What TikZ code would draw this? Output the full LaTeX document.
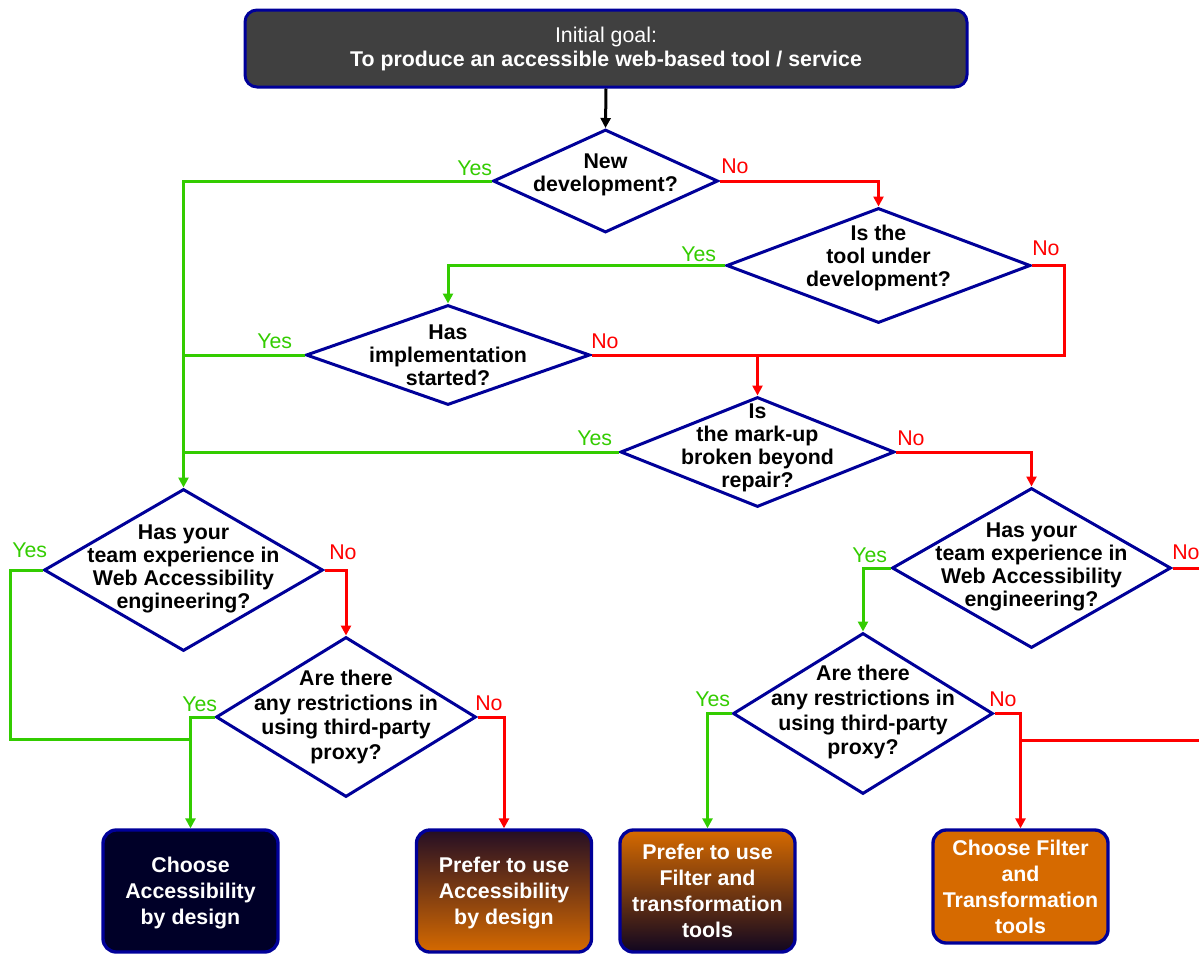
\documentclass[tikz,border=0pt]{standalone}
\usepackage{fontspec}
\setmainfont{Liberation Sans}
\usetikzlibrary{shapes.geometric,arrows.meta}
\definecolor{navyline}{RGB}{0,0,153}
\definecolor{yesgreen}{RGB}{51,204,0}
\definecolor{nored}{RGB}{255,0,0}
\definecolor{goalgray}{RGB}{64,64,64}
\definecolor{darknavy}{RGB}{0,0,40}
\definecolor{boxorange}{RGB}{214,106,0}
\definecolor{darkplum}{RGB}{36,14,36}
\definecolor{darkink}{RGB}{16,6,32}

\begin{document}
\begin{tikzpicture}[x=0.75pt,y=0.75pt,yscale=-1,xscale=1,
  dia/.style 2 args={diamond, draw=navyline, line width=2.25pt, fill=white, inner sep=0pt, minimum width=#1*0.75pt, minimum height=#2*0.75pt},
  dtext/.style={align=center, inner sep=0pt, font=\bfseries\fontsize{16}{17.25}\selectfont},
  dtextwide/.style={dtext, font=\bfseries\fontsize{16}{18.5}\selectfont},
  endbox/.style={rectangle, rounded corners=10pt, draw=navyline, line width=2.5pt, text=white, align=center, font=\bfseries\fontsize{16}{19.5}\selectfont, minimum width=175*0.75pt},
  yesline/.style={draw=yesgreen, line width=2.25pt},
  noline/.style={draw=nored, line width=2.25pt},
  headed/.style={-{Triangle[length=7.5pt,width=7.5pt]}},
  yeslbl/.style={text=yesgreen, anchor=base west, inner sep=0pt, font=\fontsize{16}{19}\selectfont},
  nolbl/.style={text=nored, anchor=base west, inner sep=0pt, font=\fontsize{16}{19}\selectfont}]
\useasboundingbox (0,0) rectangle (1199,953);
\clip (0,0) rectangle (1199,953);
% Goal box
\node [rectangle, rounded corners=9pt, draw=navyline, line width=2.25pt, fill=goalgray, text=white, align=center, font=\fontsize{16}{18}\selectfont, minimum width=722*0.75pt, minimum height=77*0.75pt] (goal) at (606,48.5) {Initial goal:\\\textbf{To produce an accessible web-based tool / service}};
% Decisions
\node [dia={225}{103}, label={[dtext,yshift=4.5pt]center:{New\\development?}}] (d1) at (605.5,181) {};
\node [dia={304}{115}, label={[dtext,yshift=6pt]center:{Is the\\tool under\\development?}}] (d2) at (878.5,265.5) {};
\node [dia={284}{100}, label={[dtext]center:{Has\\implementation\\started?}}] (d3) at (448,355) {};
\node [dia={274}{110}, label={[dtext,yshift=3pt]center:{Is\\the mark-up\\broken beyond\\repair?}}] (d4) at (757.5,452) {};
\node [dia={279}{162}, label={[dtext,yshift=1pt]center:{Has your\\team experience in\\Web Accessibility\\engineering?}}] (d5) at (183.5,570) {};
\node [dia={260}{160}, label={[dtextwide]center:{Are there\\any restrictions in\\using third-party\\proxy?}}] (d6) at (346,717) {};
\node [dia={279}{160}, label={[dtext,yshift=1pt]center:{Has your\\team experience in\\Web Accessibility\\engineering?}}] (d7) at (1031.5,568) {};
\node [dia={260}{161}, label={[dtextwide,yshift=1pt]center:{Are there\\any restrictions in\\using third-party\\proxy?}}] (d8) at (863,713.5) {};
% Outcomes
\node [endbox, fill=darknavy, minimum height=122*0.75pt, text depth=-2pt] (b1) at (190.5,891) {Choose\\Accessibility\\by design};
\node [endbox, top color=darkplum, bottom color=boxorange, minimum height=122*0.75pt, text depth=-2pt] (b2) at (504,891) {Prefer to use\\Accessibility\\by design};
\node [endbox, top color=boxorange, bottom color=darkink, minimum height=122*0.75pt] (b3) at (707.5,891) {Prefer to use\\Filter and\\transformation\\tools};
\node [endbox, fill=boxorange, minimum height=113*0.75pt] (b4) at (1020.5,886.5) {Choose Filter\\and\\Transformation\\tools};
% Junctions
\coordinate (rjoin) at (d4.north |- d3.east);
\coordinate (ljoin) at (190.5,739);
\coordinate (rfork) at (1020.5,740);
\coordinate (redge1) at (1199,568);
\coordinate (redge2) at (1199,740);
% Connectors
\draw [line width=2.25pt, headed] (goal.south) -- (d1.north);
\draw [yesline, headed] (d1.west) -| (d5.north);
\draw [noline, headed] (d1.east) -| (d2.north);
\draw [yesline, headed] (d2.west) -| (d3.north);
\draw [noline] (d2.east) -- ++(32,0) |- (rjoin);
\draw [yesline] (d3.west) -- (d3.west -| d5.north);
\draw [noline] (d3.east) -- (rjoin);
\draw [noline, headed] (rjoin) -- (d4.north);
\draw [yesline] (d4.west) -- (d4.west -| d5.north);
\draw [noline, headed] (d4.east) -| (d7.north);
\draw [yesline] (d5.west) -- ++(-32,0) |- (ljoin);
\draw [noline, headed] (d5.east) -| (d6.north);
\draw [yesline, headed] (d6.west) -| (b1.north);
\draw [noline, headed] (d6.east) -| (b2.north);
\draw [yesline, headed] (d7.west) -| (d8.north);
\draw [noline] (d7.east) -- (redge1);
\draw [yesline, headed] (d8.west) -| (b3.north);
\draw [noline, headed] (d8.east) -| (b4.north);
\draw [noline] (rfork) -- (redge2);
% Text Node
\node [yeslbl] (y1) at (457,175) {Yes};
\node [nolbl] (n1) at (721,173) {No};
\node [yeslbl] (y2) at (681,261) {Yes};
\node [nolbl] (n2) at (1032,255) {No};
\node [yeslbl] (y3) at (257,348) {Yes};
\node [nolbl] (n3) at (591,348) {No};
\node [yeslbl] (y4) at (577,445) {Yes};
\node [nolbl] (n4) at (897,445) {No};
\node [yeslbl] (y5) at (12,557) {Yes};
\node [nolbl] (n5) at (329,559) {No};
\node [yeslbl] (y6) at (182,711) {Yes};
\node [nolbl] (n6) at (475,710) {No};
\node [yeslbl] (y7) at (852,562) {Yes};
\node [nolbl] (n7) at (1172,559) {No};
\node [yeslbl] (y8) at (695,706) {Yes};
\node [nolbl] (n8) at (989,706) {No};
\end{tikzpicture}
\end{document}
